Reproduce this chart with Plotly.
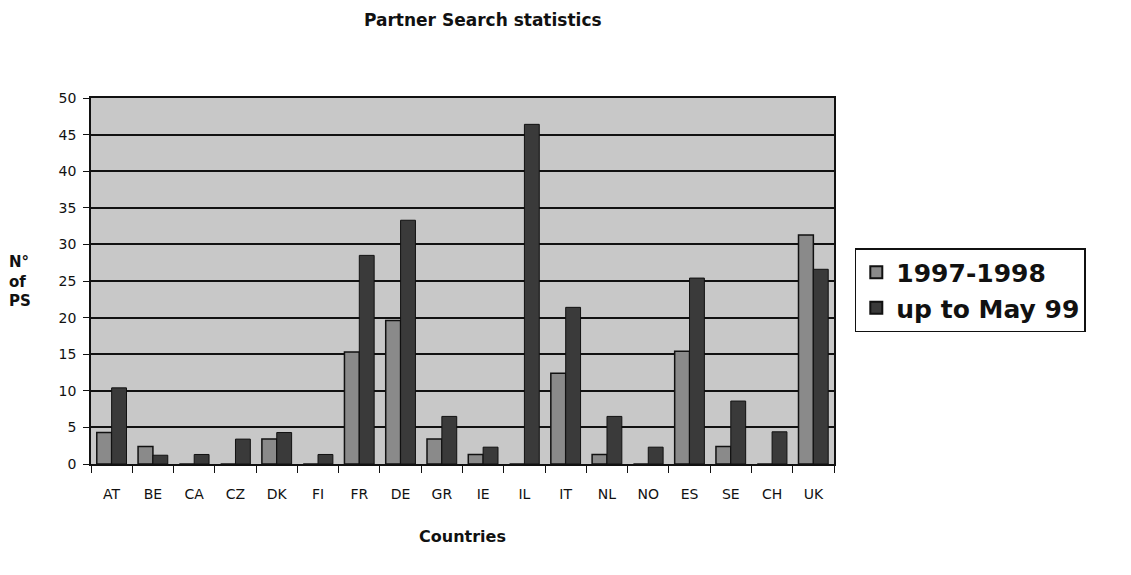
import plotly.graph_objects as go

countries = ["AT", "BE", "CA", "CZ", "DK", "FI", "FR", "DE", "GR", "IE",
             "IL", "IT", "NL", "NO", "ES", "SE", "CH", "UK"]
ps_1997_1998 = [4.3, 2.4, 0, 0, 3.4, 0, 15.3, 19.6, 3.4, 1.3,
                0, 12.4, 1.3, 0, 15.4, 2.4, 0, 31.3]
ps_up_to_may99 = [10.4, 1.2, 1.3, 3.4, 4.3, 1.3, 28.5, 33.3, 6.5, 2.3,
                  46.4, 21.4, 6.5, 2.3, 25.4, 8.6, 4.4, 26.6]
y_ticks = [0, 5, 10, 15, 20, 25, 30, 35, 40, 45, 50]

FONT = "DejaVu Sans, Liberation Sans, Arial, sans-serif"

fig = go.Figure()
fig.add_trace(go.Bar(
    x=countries, y=ps_1997_1998, name="1997-1998",
    marker=dict(color="#8a8a8a", line=dict(color="#111111", width=1.5)),
))
fig.add_trace(go.Bar(
    x=countries, y=ps_up_to_may99, name="up to May 99",
    marker=dict(color="#3a3a3a", line=dict(color="#111111", width=1)),
))

fig.update_layout(
    width=1131, height=575,
    paper_bgcolor="white", plot_bgcolor="#c8c8c8",
    margin=dict(l=83, r=305, t=90, b=119, autoexpand=False),
    barmode="group", bargap=0.28, bargroupgap=0.0,
    font=dict(family=FONT, color="#111111"),
    showlegend=True,
    legend=dict(
        x=1.028, y=0.59, xanchor="left", yanchor="top",
        font=dict(size=25, family=FONT, color="#111111", weight="bold"),
        bordercolor="#111111", borderwidth=1.5, bgcolor="white",
        itemsizing="constant", tracegroupgap=0, itemwidth=30,
    ),
    xaxis=dict(
        showgrid=False, showline=True, linecolor="#111111", linewidth=1.5,
        ticks="outside", tickson="boundaries", ticklen=7, tickcolor="#111111",
        tickfont=dict(size=14), mirror=True, ticklabelstandoff=16,
        title=dict(text="<b>Countries</b>", font=dict(size=16), standoff=30),
    ),
    yaxis=dict(
        range=[0, 50], tickvals=y_ticks, showgrid=True, gridcolor="#111111", gridwidth=2,
        showline=True, linecolor="#111111", linewidth=1.5, mirror=True,
        ticks="outside", ticklen=6, tickcolor="#111111", tickfont=dict(size=14),
        zeroline=False, ticklabelstandoff=4,
    ),
    annotations=[
        dict(text="<b>Partner Search statistics</b>", xref="paper", yref="paper",
             x=0.527, y=1.0, yshift=78, xanchor="center", yanchor="middle",
             showarrow=False, font=dict(size=17)),
        dict(text="<b>N°<br>of<br>PS</b>", xref="paper", yref="paper",
             x=-0.113, y=0.499, xanchor="left", yanchor="middle", align="left",
             showarrow=False, font=dict(size=15)),
    ],
)

fig.write_html("out.html")
